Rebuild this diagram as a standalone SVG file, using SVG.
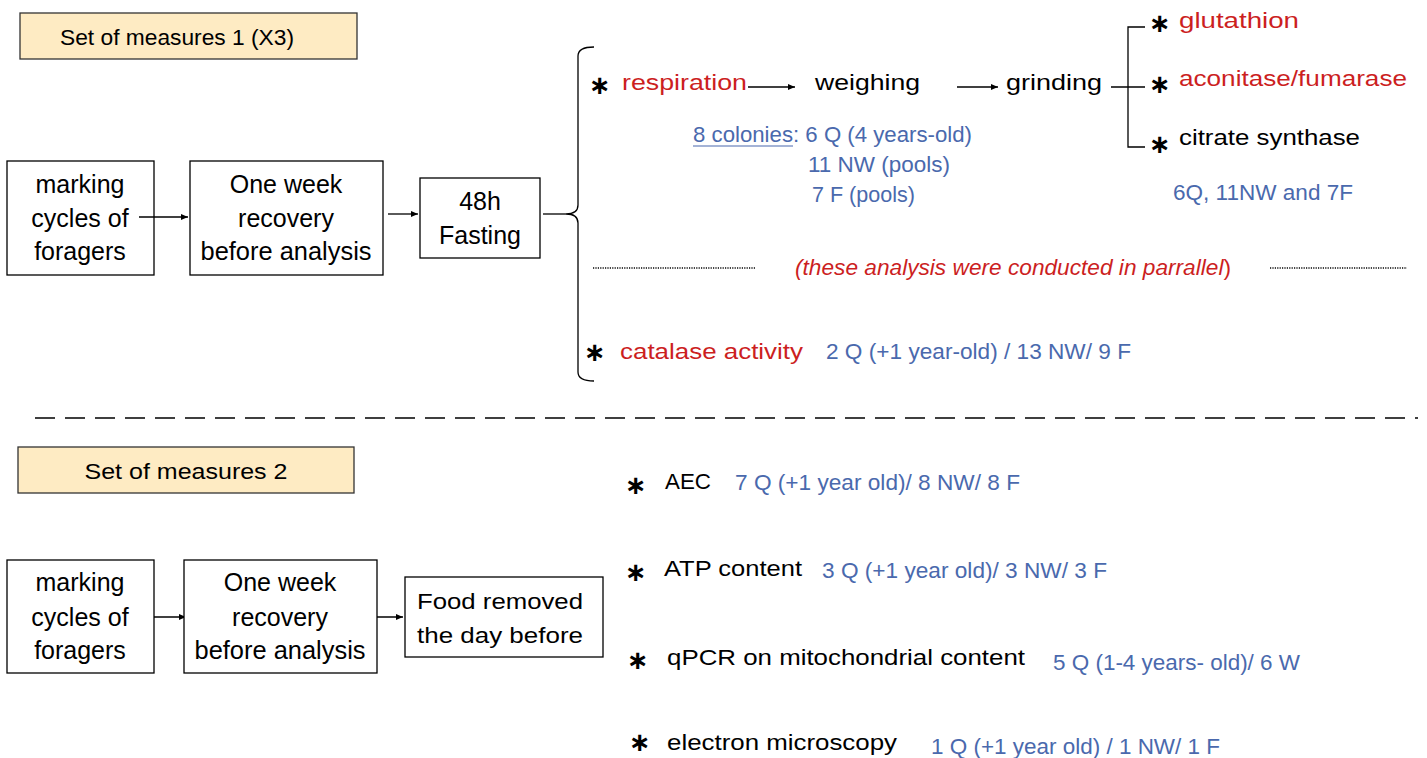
<svg xmlns="http://www.w3.org/2000/svg" width="1427" height="758" viewBox="0 0 1427 758">
<style>
text{font-family:"Liberation Sans",Arial,sans-serif;font-size:22px;fill:#000}
.r{fill:#CC1F1F}
.b{fill:#4A69AD}
.ast{font-family:"DejaVu Sans",sans-serif;font-size:26px;font-weight:bold;text-anchor:middle}
.bt{font-size:25px;text-anchor:middle}
.box{fill:#fff;stroke:#000;stroke-width:1.3}
.title{fill:#FEEBC3;stroke:#333;stroke-width:1.3}
.ln{stroke:#000;stroke-width:1.3;fill:none}
.c{text-anchor:middle}
</style>
<defs>
<marker id="ah" markerWidth="8" markerHeight="8" refX="7" refY="4" orient="auto" markerUnits="userSpaceOnUse">
<path d="M0,1 L7,4 L0,7 Z" fill="#000"/>
</marker>
</defs>

<g id="title1"><rect class="title" x="20" y="13" width="337" height="46"/><text class="c" x="177" y="45" font-size="24" textLength="234" lengthAdjust="spacingAndGlyphs">Set of measures 1 (X3)</text></g>
<g id="a1"><rect class="box" x="7" y="161" width="147" height="114"/><text class="bt" x="80" y="193">marking</text><text class="bt" x="80" y="227">cycles of</text><text class="bt" x="80" y="260">foragers</text></g>
<g id="b1"><rect class="box" x="190" y="161" width="193" height="114"/><text class="bt" x="286" y="193">One week</text><text class="bt" x="286" y="227">recovery</text><text class="bt" x="286" y="260" textLength="171" lengthAdjust="spacingAndGlyphs">before analysis</text></g>
<g id="c1"><rect class="box" x="420" y="178" width="120" height="80"/><text class="bt" x="480" y="210">48h</text><text class="bt" x="480" y="244">Fasting</text></g>

<g id="resp"><text class="ast" x="600" y="94">∗</text><text class="r" x="622" y="90" font-size="23" textLength="125" lengthAdjust="spacingAndGlyphs">respiration</text></g>
<g id="weigh"><text x="815" y="90" font-size="23" textLength="105" lengthAdjust="spacingAndGlyphs">weighing</text></g>
<g id="grind"><text x="1006" y="90" font-size="23" textLength="96" lengthAdjust="spacingAndGlyphs">grinding</text></g>
<g id="glut"><text class="ast" x="1160" y="32">∗</text><text class="r" x="1179" y="28" font-size="23" textLength="120" lengthAdjust="spacingAndGlyphs">glutathion</text></g>
<g id="acon"><text class="ast" x="1160" y="93">∗</text><text class="r" x="1179" y="86" font-size="23" textLength="228" lengthAdjust="spacingAndGlyphs">aconitase/fumarase</text></g>
<g id="cit"><text class="ast" x="1160" y="153">∗</text><text x="1179" y="145" font-size="23" textLength="181" lengthAdjust="spacingAndGlyphs">citrate synthase</text></g>
<g id="n1"><text class="b" x="1173" y="200" font-size="20" textLength="180" lengthAdjust="spacingAndGlyphs">6Q, 11NW and 7F</text></g>
<g id="colonies"><text class="b" font-size="21" x="693" y="142" textLength="279" lengthAdjust="spacingAndGlyphs">8 colonies: 6 Q (4 years-old)</text><line x1="693" y1="146" x2="793" y2="146" stroke="#4A69AD" stroke-width="1.2"/><text class="b" font-size="21" x="808" y="172" textLength="142" lengthAdjust="spacingAndGlyphs">11 NW (pools)</text><text class="b" font-size="21" x="812" y="202" textLength="103" lengthAdjust="spacingAndGlyphs">7 F (pools)</text></g>
<g id="parallel"><line x1="593" y1="268" x2="755" y2="268" stroke="#444" stroke-width="2" stroke-dasharray="1.2 1.2"/><text class="r" x="795" y="275" font-size="21" textLength="436" lengthAdjust="spacingAndGlyphs"><tspan font-style="italic">(these analysis were conducted in parrallel</tspan>)</text><line x1="1270" y1="268" x2="1407" y2="268" stroke="#444" stroke-width="2" stroke-dasharray="1.2 1.2"/></g>
<g id="catalase"><text class="ast" x="595" y="361">∗</text><text class="r" x="620" y="359" font-size="24" textLength="183" lengthAdjust="spacingAndGlyphs">catalase activity</text><text class="b" x="826" y="359" font-size="21" textLength="305" lengthAdjust="spacingAndGlyphs">2 Q (+1 year-old) / 13 NW/ 9 F</text></g>

<g id="connectors">
<line class="ln" x1="139" y1="217" x2="188" y2="217" marker-end="url(#ah)"/>
<line class="ln" x1="388" y1="214" x2="418" y2="214" marker-end="url(#ah)"/>
<line class="ln" x1="543" y1="214" x2="566" y2="214"/>
<path class="ln" stroke-width="2" d="M594,47 Q578,47 578,56 L578,205 Q578,214 566,214 Q578,214 578,223 L578,372 Q578,381 594,381"/>
<line class="ln" x1="748" y1="87" x2="795" y2="87" marker-end="url(#ah)"/>
<line class="ln" x1="957" y1="87" x2="998" y2="87" marker-end="url(#ah)"/>
<line class="ln" x1="1111" y1="87" x2="1145" y2="87"/>
<path class="ln" d="M1145,27 L1128,27 L1128,147 L1145,147"/>
<line class="ln" x1="35" y1="418" x2="1418" y2="418" stroke-width="2" stroke-dasharray="20 10"/>
<line class="ln" x1="139" y1="617" x2="186" y2="617" marker-end="url(#ah)"/>
<line class="ln" x1="359" y1="617" x2="403" y2="617" marker-end="url(#ah)"/>
</g>

<g id="title2"><rect class="title" x="18" y="447" width="336" height="46"/><text class="c" x="186" y="479" font-size="24" textLength="203" lengthAdjust="spacingAndGlyphs">Set of measures 2</text></g>
<g id="a2"><rect class="box" x="7" y="560" width="147" height="113"/><text class="bt" x="80" y="591">marking</text><text class="bt" x="80" y="626">cycles of</text><text class="bt" x="80" y="659">foragers</text></g>
<g id="b2"><rect class="box" x="184" y="560" width="193" height="113"/><text class="bt" x="280" y="591">One week</text><text class="bt" x="280" y="626">recovery</text><text class="bt" x="280" y="659" textLength="171" lengthAdjust="spacingAndGlyphs">before analysis</text></g>
<g id="c2"><rect class="box" x="405" y="577" width="198" height="80"/><text x="417" y="609" font-size="24" textLength="166" lengthAdjust="spacingAndGlyphs">Food removed</text><text x="417" y="643" font-size="24" textLength="166" lengthAdjust="spacingAndGlyphs">the day before</text></g>

<g id="aec"><text class="ast" x="636" y="494">∗</text><text x="665" y="489" font-size="24" textLength="46" lengthAdjust="spacingAndGlyphs">AEC</text><text class="b" x="735" y="490" font-size="21" textLength="285" lengthAdjust="spacingAndGlyphs">7 Q (+1 year old)/ 8 NW/ 8 F</text></g>
<g id="atp"><text class="ast" x="636" y="581">∗</text><text x="664" y="576" font-size="24" textLength="138" lengthAdjust="spacingAndGlyphs">ATP content</text><text class="b" x="822" y="578" font-size="21" textLength="285" lengthAdjust="spacingAndGlyphs">3 Q (+1 year old)/ 3 NW/ 3 F</text></g>
<g id="qpcr"><text class="ast" x="638" y="669">∗</text><text x="667" y="665" font-size="24" textLength="358" lengthAdjust="spacingAndGlyphs">qPCR on mitochondrial content</text><text class="b" x="1053" y="670" font-size="21" textLength="247" lengthAdjust="spacingAndGlyphs">5 Q (1-4 years- old)/ 6 W</text></g>
<g id="em"><text class="ast" x="640" y="751" font-size="24">∗</text><text x="667" y="750" font-size="24" textLength="230" lengthAdjust="spacingAndGlyphs">electron microscopy</text><text class="b" x="931" y="754" font-size="21" textLength="289" lengthAdjust="spacingAndGlyphs">1 Q (+1 year old) / 1 NW/ 1 F</text></g>
</svg>
